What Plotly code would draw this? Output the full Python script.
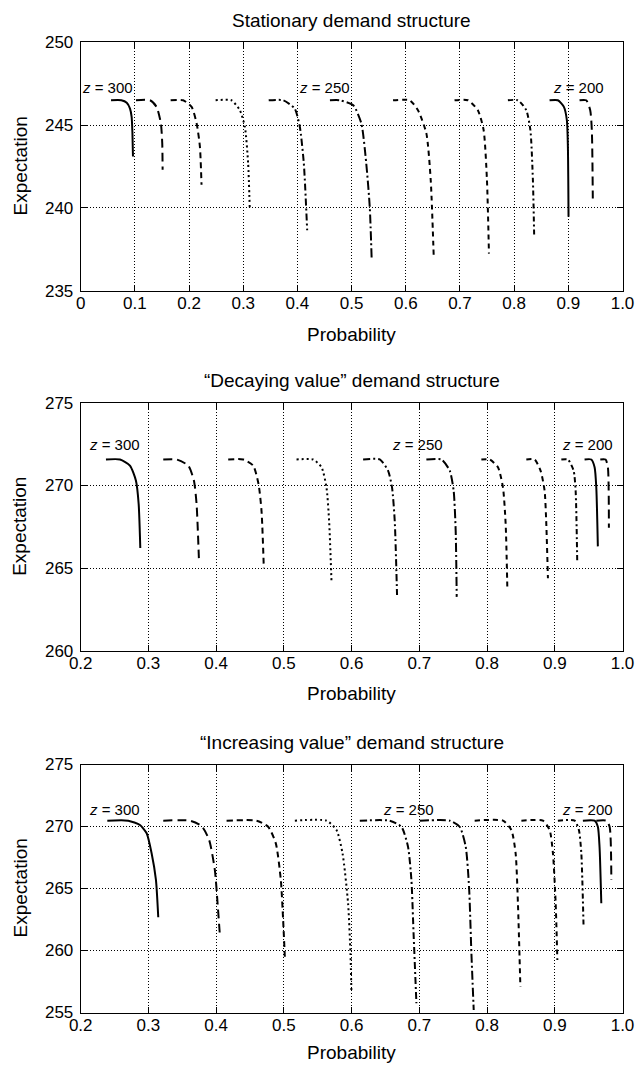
import plotly.graph_objects as go

# ---------------- data ----------------
z_levels = [300, 290, 280, 270, 260, 250, 240, 230, 220, 210, 200]

# Panel 1: Stationary demand structure
stat_x = [
    [0.056, 0.075, 0.085, 0.091, 0.094, 0.0955, 0.0965],
    [0.102, 0.128, 0.140, 0.148, 0.1505, 0.1512],
    [0.166, 0.189, 0.2047, 0.214, 0.220, 0.223],
    [0.249, 0.278, 0.2937, 0.303, 0.309, 0.312],
    [0.347, 0.3737, 0.395, 0.4044, 0.4118, 0.418],
    [0.460, 0.478, 0.503, 0.518, 0.527, 0.5335, 0.537],
    [0.5765, 0.607, 0.6225, 0.638, 0.646, 0.6515],
    [0.690, 0.7147, 0.733, 0.7437, 0.7498, 0.7535],
    [0.7885, 0.807, 0.8224, 0.830, 0.8346, 0.837],
    [0.8654, 0.8807, 0.8918, 0.8973, 0.8992, 0.9004],
    [0.9207, 0.933, 0.9404, 0.9434, 0.9452],
]
stat_y = [
    [246.5, 246.5, 246.35, 246.0, 245.5, 244.5, 243.1],
    [246.5, 246.5, 246.1, 245.1, 243.9, 242.3],
    [246.5, 246.5, 246.1, 245.1, 243.7, 241.4],
    [246.5, 246.5, 245.9, 244.9, 242.7, 240.0],
    [246.5, 246.5, 246.0, 244.9, 242.7, 238.65],
    [246.5, 246.5, 246.2, 245.1, 242.7, 240.06, 236.94],
    [246.5, 246.5, 245.9, 244.5, 241.7, 237.14],
    [246.5, 246.5, 245.9, 244.7, 241.7, 237.24],
    [246.5, 246.5, 245.9, 244.7, 241.7, 238.25],
    [246.5, 246.5, 246.1, 245.3, 243.7, 239.46],
    [246.5, 246.5, 245.9, 244.7, 240.57],
]

# Panel 2: "Decaying value" demand structure
dec_x = [
    [0.2373, 0.258, 0.2727, 0.2816, 0.2856, 0.288],
    [0.3219, 0.3416, 0.3588, 0.3672, 0.3711, 0.3745],
    [0.4178, 0.440, 0.4547, 0.4626, 0.467, 0.4704],
    [0.5187, 0.5432, 0.5556, 0.5629, 0.5668, 0.5703],
    [0.617, 0.6416, 0.6538, 0.6597, 0.6637, 0.6671],
    [0.7104, 0.7326, 0.7449, 0.7507, 0.7537, 0.7552],
    [0.7916, 0.8039, 0.8161, 0.8235, 0.8275, 0.830],
    [0.858, 0.8702, 0.879, 0.885, 0.8875, 0.8899],
    [0.9097, 0.9194, 0.9278, 0.9308, 0.9332],
    [0.944, 0.9539, 0.9588, 0.9613, 0.9636],
    [0.9672, 0.975, 0.9784, 0.9799],
]
dec_y = [
    [271.57, 271.57, 271.2, 270.29, 268.87, 266.22],
    [271.57, 271.57, 271.2, 270.29, 268.87, 265.61],
    [271.57, 271.57, 271.2, 270.08, 268.46, 265.0],
    [271.57, 271.57, 271.1, 269.88, 267.85, 264.19],
    [271.57, 271.57, 270.9, 269.88, 267.85, 263.38],
    [271.57, 271.57, 270.9, 269.68, 267.24, 263.27],
    [271.57, 271.57, 271.1, 269.88, 267.65, 263.68],
    [271.57, 271.57, 270.9, 269.68, 267.65, 264.39],
    [271.57, 271.57, 270.9, 269.68, 265.3],
    [271.57, 271.57, 271.1, 269.88, 266.32],
    [271.57, 271.57, 271.1, 267.44],
]

# Panel 3: "Increasing value" demand structure
inc_x = [
    [0.2393, 0.2703, 0.2875, 0.2974, 0.3047, 0.3111, 0.3145],
    [0.3219, 0.3613, 0.3785, 0.3897, 0.3981, 0.4021, 0.4055],
    [0.4154, 0.4597, 0.4768, 0.4881, 0.4955, 0.4989, 0.5014],
    [0.5162, 0.5629, 0.5777, 0.5866, 0.5948, 0.5983, 0.5998],
    [0.6121, 0.6563, 0.6736, 0.6833, 0.6883, 0.6917, 0.6957],
    [0.7006, 0.7449, 0.7596, 0.7685, 0.7734, 0.7769, 0.7803],
    [0.7817, 0.8235, 0.8359, 0.8422, 0.8456, 0.8492],
    [0.8507, 0.8825, 0.8924, 0.8973, 0.9013, 0.9038],
    [0.9046, 0.9293, 0.9356, 0.9392, 0.9425],
    [0.9415, 0.9588, 0.9636, 0.9661, 0.9687],
    [0.9613, 0.9761, 0.981, 0.9835],
]
inc_y = [
    [270.47, 270.47, 270.12, 269.45, 267.84, 265.69, 262.68],
    [270.47, 270.47, 270.04, 268.91, 266.49, 263.81, 261.25],
    [270.47, 270.47, 269.98, 268.64, 265.69, 262.46, 259.5],
    [270.47, 270.47, 269.72, 267.84, 263.81, 259.77, 256.55],
    [270.47, 270.47, 269.98, 268.37, 265.69, 261.11, 255.74],
    [270.47, 270.47, 269.98, 268.37, 265.15, 259.77, 255.2],
    [270.47, 270.47, 269.72, 267.84, 263.81, 257.08],
    [270.47, 270.47, 269.72, 267.84, 263.81, 259.23],
    [270.47, 270.47, 269.72, 267.84, 261.92],
    [270.47, 270.47, 269.98, 268.37, 263.81],
    [270.47, 270.47, 269.98, 265.69],
]

panel_titles = ["Stationary demand structure",
                "\u201cDecaying value\u201d demand structure",
                "\u201cIncreasing value\u201d demand structure"]
x_ranges = [[0, 1.0], [0.2, 1.0], [0.2, 1.0]]
y_ranges = [[235, 250], [260, 275], [255, 275]]
x_ticks_1 = [0, 0.1, 0.2, 0.3, 0.4, 0.5, 0.6, 0.7, 0.8, 0.9, 1.0]
x_ticktext_1 = ["0", "0.1", "0.2", "0.3", "0.4", "0.5", "0.6", "0.7", "0.8", "0.9", "1.0"]
x_ticks_23 = [0.2, 0.3, 0.4, 0.5, 0.6, 0.7, 0.8, 0.9, 1.0]
x_ticktext_23 = ["0.2", "0.3", "0.4", "0.5", "0.6", "0.7", "0.8", "0.9", "1.0"]

# z-labels: (text, x, y) per panel
z_label_text = ["<i>z</i> = 300", "<i>z</i> = 250", "<i>z</i> = 200"]
z_label_x = [[0.049, 0.45, 0.919], [0.2494, 0.697, 0.9477], [0.2494, 0.684, 0.9485]]
z_label_y = [247.3, 272.48, 271.39]

# ---------------- styling ----------------
dashes = ["solid", "9px,5px", "6px,4px", "2px,3px", "7px,3px,2px,3px",
          "9px,3px,2px,3px", "5px,4px", "5px,4px", "5px,3px,2px,3px",
          "solid", "9px,5px"]

W, H = 636, 1066
x_dom = [80.7 / W, 622.5 / W]
y_doms = [[1 - 290.7 / H, 1 - 42.3 / H],
          [1 - 651.0 / H, 1 - 402.7 / H],
          [1 - 1012.5 / H, 1 - 764.5 / H]]
prob_gap = [44, 42, 40]

FONT = "Liberation Sans, Arial, Helvetica, sans-serif"

fig = go.Figure()
all_x = [stat_x, dec_x, inc_x]
all_y = [stat_y, dec_y, inc_y]
for p in range(3):
    xa = "x" if p == 0 else f"x{p+1}"
    ya = "y" if p == 0 else f"y{p+1}"
    for i in range(11):
        fig.add_trace(go.Scatter(
            x=all_x[p][i], y=all_y[p][i], mode="lines",
            line=dict(color="black", width=2, dash=dashes[i], shape="spline", smoothing=0.6),
            xaxis=xa, yaxis=ya, showlegend=False, hoverinfo="skip"))

axis_common = dict(showline=True, linecolor="black", linewidth=1, mirror="ticks",
                   ticks="inside", ticklen=6, tickcolor="black", tickwidth=1,
                   showgrid=True, gridcolor="black", griddash="1px,2px", gridwidth=1,
                   zeroline=False, tickfont=dict(size=17, color="black", family=FONT),
                   automargin=False, fixedrange=True)

layout = dict(width=W, height=H, margin=dict(l=0, r=0, t=0, b=0),
              paper_bgcolor="white", plot_bgcolor="white",
              font=dict(family=FONT, color="black"), showlegend=False)
annotations = []
for p in range(3):
    xk = "xaxis" if p == 0 else f"xaxis{p+1}"
    yk = "yaxis" if p == 0 else f"yaxis{p+1}"
    ya = "y" if p == 0 else f"y{p+1}"
    xa = "x" if p == 0 else f"x{p+1}"
    tv = x_ticks_1 if p == 0 else x_ticks_23
    tt = x_ticktext_1 if p == 0 else x_ticktext_23
    layout[xk] = dict(axis_common, domain=x_dom, range=x_ranges[p], anchor=ya,
                      tickvals=tv, ticktext=tt, ticklabelstandoff=-3)
    yt = list(range(y_ranges[p][0], y_ranges[p][1] + 1, 5))
    layout[yk] = dict(axis_common, domain=y_doms[p], range=y_ranges[p], anchor=xa,
                      tickvals=yt, ticklabelstandoff=3)
    top = y_doms[p][1]
    bot = y_doms[p][0]
    annotations.append(dict(text=panel_titles[p], xref="paper", yref="paper",
                            x=(x_dom[0] + x_dom[1]) / 2, y=top + 22 / H,
                            xanchor="center", yanchor="middle", showarrow=False,
                            font=dict(size=19, color="black", family=FONT)))
    annotations.append(dict(text="Probability", xref="paper", yref="paper",
                            x=(x_dom[0] + x_dom[1]) / 2, y=bot - prob_gap[p] / H,
                            xanchor="center", yanchor="middle", showarrow=False,
                            font=dict(size=19, color="black", family=FONT)))
    annotations.append(dict(text="Expectation", xref="paper", yref="paper",
                            x=20 / W, y=(top + bot) / 2, textangle=-90,
                            xanchor="center", yanchor="middle", showarrow=False,
                            font=dict(size=19, color="black", family=FONT)))
    for k in range(3):
        annotations.append(dict(text=z_label_text[k], xref=xa, yref=ya,
                                x=z_label_x[p][k], y=z_label_y[p],
                                xanchor="center", yanchor="middle", showarrow=False,
                                font=dict(size=15, color="black", family=FONT)))
layout["annotations"] = annotations
fig.update_layout(**layout)

# remove the default page margin so the 636x1066 figure fills the window exactly
fig.write_html("out.html", config={"displayModeBar": False},
               post_script="document.body.style.margin='0';document.body.style.overflow='hidden';")
